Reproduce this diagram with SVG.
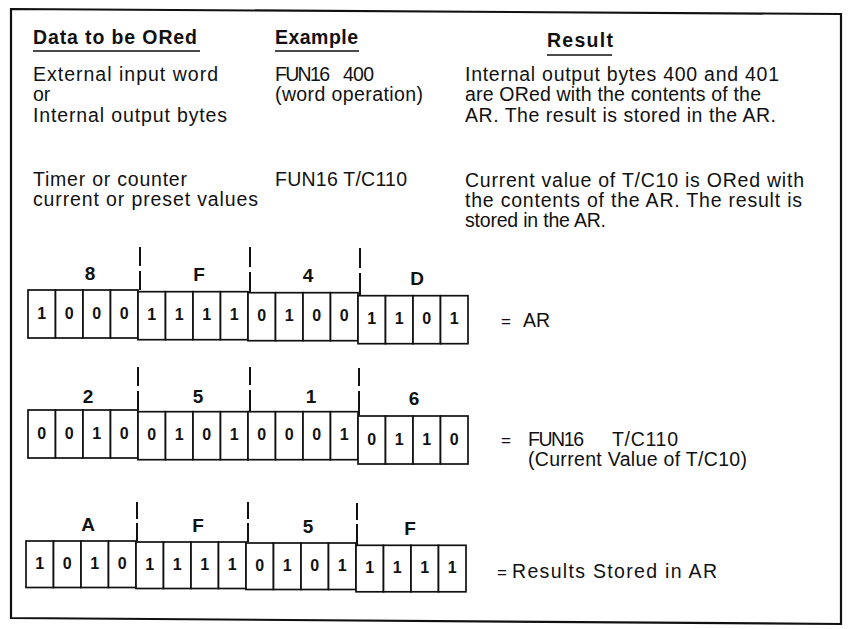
<svg xmlns="http://www.w3.org/2000/svg" width="848" height="629" viewBox="0 0 848 629">
<style>
.t{font-family:"Liberation Sans",Arial,sans-serif;font-size:19.5px;fill:#111}
.h{font-family:"Liberation Sans",Arial,sans-serif;font-size:19.5px;font-weight:bold;fill:#111}
.hex{font-family:"Liberation Sans",Arial,sans-serif;font-size:19px;font-weight:bold;fill:#111;text-anchor:middle}
.bit{font-family:"Liberation Sans",Arial,sans-serif;font-size:16px;font-weight:bold;fill:#111;text-anchor:middle}
.eq{font-size:17px}
.cell{fill:#fff;stroke:#111;stroke-width:1.7}
.sep{fill:none;stroke:#111;stroke-width:2}
.ul{fill:none;stroke:#111;stroke-width:1.6}
.frame{fill:#fff;stroke:#111;stroke-width:2.2}
</style>
<rect x="0" y="0" width="848" height="629" fill="#fff"/>
<polygon class="frame" points="11,9 841,14 841,624 11,618"/>

<g id="headers">
<text class="h" x="33" y="44" textLength="164">Data to be ORed</text>
<text class="h" x="275" y="44" textLength="83">Example</text>
<text class="h" x="547" y="47" textLength="66">Result</text>
<path class="ul" d="M33,51 H200 M275,51 H359 M547,55 H612"/>
</g>

<g id="row-word">
<text class="t" x="33" y="81" textLength="185">External input word</text>
<text class="t" x="33" y="101">or</text>
<text class="t" x="33" y="122" textLength="194">Internal output bytes</text>
<text class="t" y="81"><tspan x="275" textLength="55">FUN16</tspan><tspan x="343" textLength="31">400</tspan></text>
<text class="t" x="275" y="101" textLength="148">(word operation)</text>
<text class="t" x="465" y="81" textLength="314">Internal output bytes 400 and 401</text>
<text class="t" x="465" y="101" textLength="296">are ORed with the contents of the</text>
<text class="t" x="465" y="122" textLength="311">AR. The result is stored in the AR.</text>
</g>

<g id="row-timer">
<text class="t" x="33" y="186" textLength="154">Timer or counter</text>
<text class="t" x="33" y="206" textLength="225">current or preset values</text>
<text class="t" x="275" y="186" textLength="132">FUN16 T/C110</text>
<text class="t" x="465" y="187" textLength="339">Current value of T/C10 is ORed with</text>
<text class="t" x="465" y="207" textLength="337">the contents of the AR. The result is</text>
<text class="t" x="465" y="227" textLength="141">stored in the AR.</text>
</g>

<g id="connectors">
<path class="sep" d="M140,247 V266 M140,271 V290 M250,247 V267 M250,272 V292 M360,248 V268 M360,273 V295"/>
<path class="sep" d="M138,367 V386 M138,391 V410 M250,367 V385 M250,390 V411 M359,368 V386 M359,391 V415"/>
<path class="sep" d="M137,502 V519 M137,523 V541 M248,502 V519 M248,523 V542 M357,503 V520 M357,524 V545"/>
</g>

<g id="ar">
<text class="hex" x="90" y="280">8</text>
<text class="hex" x="199" y="281">F</text>
<text class="hex" x="308" y="282">4</text>
<text class="hex" x="417" y="285">D</text>
<g>
<rect class="cell" x="28" y="290" width="27.5" height="48"/><rect class="cell" x="55.5" y="290" width="27.5" height="48"/><rect class="cell" x="83" y="290" width="27.5" height="48"/><rect class="cell" x="110.5" y="290" width="27.5" height="48"/>
<text class="bit" x="41.75" y="318.5">1</text><text class="bit" x="69.25" y="318.5">0</text><text class="bit" x="96.75" y="318.5">0</text><text class="bit" x="124.25" y="318.5">0</text>
</g>
<g transform="translate(0,1.7)">
<rect class="cell" x="138" y="290" width="27.5" height="48"/><rect class="cell" x="165.5" y="290" width="27.5" height="48"/><rect class="cell" x="193" y="290" width="27.5" height="48"/><rect class="cell" x="220.5" y="290" width="27.5" height="48"/>
<text class="bit" x="151.75" y="318.5">1</text><text class="bit" x="179.25" y="318.5">1</text><text class="bit" x="206.75" y="318.5">1</text><text class="bit" x="234.25" y="318.5">1</text>
</g>
<g transform="translate(0,2.7)">
<rect class="cell" x="248" y="290" width="27.5" height="48"/><rect class="cell" x="275.5" y="290" width="27.5" height="48"/><rect class="cell" x="303" y="290" width="27.5" height="48"/><rect class="cell" x="330.5" y="290" width="27.5" height="48"/>
<text class="bit" x="261.75" y="318.5">0</text><text class="bit" x="289.25" y="318.5">1</text><text class="bit" x="316.75" y="318.5">0</text><text class="bit" x="344.25" y="318.5">0</text>
</g>
<g transform="translate(0,5.7)">
<rect class="cell" x="358" y="290" width="27.5" height="48"/><rect class="cell" x="385.5" y="290" width="27.5" height="48"/><rect class="cell" x="413" y="290" width="27.5" height="48"/><rect class="cell" x="440.5" y="290" width="27.5" height="48"/>
<text class="bit" x="371.75" y="318.5">1</text><text class="bit" x="399.25" y="318.5">1</text><text class="bit" x="426.75" y="318.5">0</text><text class="bit" x="454.25" y="318.5">1</text>
</g>
<text class="t" y="327"><tspan class="eq" x="501">=</tspan><tspan x="523">AR</tspan></text>
</g>

<g id="fun16">
<text class="hex" x="88" y="403">2</text>
<text class="hex" x="198" y="403">5</text>
<text class="hex" x="311" y="403">1</text>
<text class="hex" x="414" y="405">6</text>
<g>
<rect class="cell" x="28" y="410" width="27.5" height="48"/><rect class="cell" x="55.5" y="410" width="27.5" height="48"/><rect class="cell" x="83" y="410" width="27.5" height="48"/><rect class="cell" x="110.5" y="410" width="27.5" height="48"/>
<text class="bit" x="41.75" y="438.5">0</text><text class="bit" x="69.25" y="438.5">0</text><text class="bit" x="96.75" y="438.5">1</text><text class="bit" x="124.25" y="438.5">0</text>
</g>
<g transform="translate(0,1.7)">
<rect class="cell" x="138" y="410" width="27.5" height="48"/><rect class="cell" x="165.5" y="410" width="27.5" height="48"/><rect class="cell" x="193" y="410" width="27.5" height="48"/><rect class="cell" x="220.5" y="410" width="27.5" height="48"/>
<text class="bit" x="151.75" y="438.5">0</text><text class="bit" x="179.25" y="438.5">1</text><text class="bit" x="206.75" y="438.5">0</text><text class="bit" x="234.25" y="438.5">1</text>
</g>
<g transform="translate(0,1.7)">
<rect class="cell" x="248" y="410" width="27.5" height="48"/><rect class="cell" x="275.5" y="410" width="27.5" height="48"/><rect class="cell" x="303" y="410" width="27.5" height="48"/><rect class="cell" x="330.5" y="410" width="27.5" height="48"/>
<text class="bit" x="261.75" y="438.5">0</text><text class="bit" x="289.25" y="438.5">0</text><text class="bit" x="316.75" y="438.5">0</text><text class="bit" x="344.25" y="438.5">1</text>
</g>
<g transform="translate(0,6)">
<rect class="cell" x="358" y="410" width="27.5" height="48"/><rect class="cell" x="385.5" y="410" width="27.5" height="48"/><rect class="cell" x="413" y="410" width="27.5" height="48"/><rect class="cell" x="440.5" y="410" width="27.5" height="48"/>
<text class="bit" x="371.75" y="438.5">0</text><text class="bit" x="399.25" y="438.5">1</text><text class="bit" x="426.75" y="438.5">1</text><text class="bit" x="454.25" y="438.5">0</text>
</g>
<text class="t" y="446"><tspan class="eq" x="501">=</tspan><tspan x="528" textLength="56">FUN16</tspan><tspan x="612" textLength="66">T/C110</tspan></text>
<text class="t" x="528" y="466" textLength="219">(Current Value of T/C10)</text>
</g>

<g id="result">
<text class="hex" x="88" y="531">A</text>
<text class="hex" x="198" y="532">F</text>
<text class="hex" x="308" y="533">5</text>
<text class="hex" x="410" y="535">F</text>
<g>
<rect class="cell" x="26" y="541" width="27.5" height="46.5"/><rect class="cell" x="53.5" y="541" width="27.5" height="46.5"/><rect class="cell" x="81" y="541" width="27.5" height="46.5"/><rect class="cell" x="108.5" y="541" width="27.5" height="46.5"/>
<text class="bit" x="39.75" y="568.5">1</text><text class="bit" x="67.25" y="568.5">0</text><text class="bit" x="94.75" y="568.5">1</text><text class="bit" x="122.25" y="568.5">0</text>
</g>
<g transform="translate(0,1)">
<rect class="cell" x="136" y="541" width="27.5" height="46.5"/><rect class="cell" x="163.5" y="541" width="27.5" height="46.5"/><rect class="cell" x="191" y="541" width="27.5" height="46.5"/><rect class="cell" x="218.5" y="541" width="27.5" height="46.5"/>
<text class="bit" x="149.75" y="568.5">1</text><text class="bit" x="177.25" y="568.5">1</text><text class="bit" x="204.75" y="568.5">1</text><text class="bit" x="232.25" y="568.5">1</text>
</g>
<g transform="translate(0,2)">
<rect class="cell" x="246" y="541" width="27.5" height="46.5"/><rect class="cell" x="273.5" y="541" width="27.5" height="46.5"/><rect class="cell" x="301" y="541" width="27.5" height="46.5"/><rect class="cell" x="328.5" y="541" width="27.5" height="46.5"/>
<text class="bit" x="259.75" y="568.5">0</text><text class="bit" x="287.25" y="568.5">1</text><text class="bit" x="314.75" y="568.5">0</text><text class="bit" x="342.25" y="568.5">1</text>
</g>
<g transform="translate(0,4.3)">
<rect class="cell" x="356" y="541" width="27.5" height="46.5"/><rect class="cell" x="383.5" y="541" width="27.5" height="46.5"/><rect class="cell" x="411" y="541" width="27.5" height="46.5"/><rect class="cell" x="438.5" y="541" width="27.5" height="46.5"/>
<text class="bit" x="369.75" y="568.5">1</text><text class="bit" x="397.25" y="568.5">1</text><text class="bit" x="424.75" y="568.5">1</text><text class="bit" x="452.25" y="568.5">1</text>
</g>
<text class="t" y="578"><tspan class="eq" x="497">=</tspan><tspan x="512" textLength="205">Results Stored in AR</tspan></text>
</g>
</svg>
